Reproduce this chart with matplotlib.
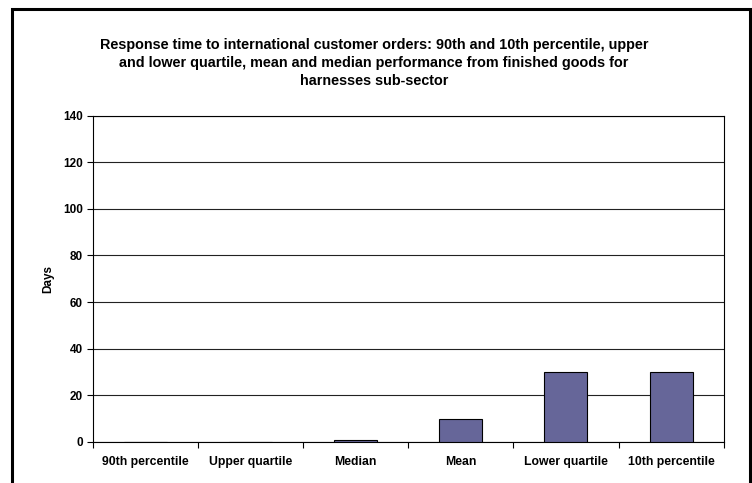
import matplotlib
matplotlib.use("Agg")
import matplotlib.pyplot as plt
from matplotlib.patches import Rectangle

categories = ["90th percentile", "Upper quartile", "Median", "Mean", "Lower quartile", "10th percentile"]
values = [0, 0, 0.8, 10, 30, 30]
yticks = [0, 20, 40, 60, 80, 100, 120, 140]
title = ("Response time to international customer orders: 90th and 10th percentile, upper\n"
         "and lower quartile, mean and median performance from finished goods for\n"
         "harnesses sub-sector")
ylabel = "Days"

plt.rcParams['font.family'] = ['Liberation Sans', 'DejaVu Sans']

W, H = 752, 483
fig = plt.figure(figsize=(W / 100, H / 100), dpi=100)

# outer frame
fig.patches.append(Rectangle((12 / W, -0.05), (750 - 12) / W, (H - 9) / H + 0.05,
                             transform=fig.transFigure, fill=False, edgecolor='black',
                             linewidth=2.2, zorder=0))

ax = fig.add_axes([92.5 / W, 1 - 442 / H, (723.7 - 92.5) / W, (442 - 115.5) / H])
x = list(range(len(categories)))
ax.bar(x, values, width=0.41, color='#666699', edgecolor='black', linewidth=0.8, zorder=3)
ax.set_xlim(-0.5, len(categories) - 0.5)
ax.set_ylim(0, 140)
ax.set_yticks(yticks)
ax.set_yticklabels([str(t) for t in yticks], fontsize=8.5, fontweight='bold')
ax.yaxis.grid(True, color='#222222', linewidth=0.8, zorder=0)
ax.set_xticks([i + 0.5 for i in range(-1, len(categories))], minor=False)
ax.set_xticklabels([])
ax.set_xticks(x, minor=True)
ax.set_xticklabels(categories, minor=True, fontsize=8.8, fontweight='bold')
ax.tick_params(axis='x', which='minor', length=0, pad=10)
ax.tick_params(axis='x', which='major', length=4, direction='out', width=0.8)
ax.tick_params(axis='y', length=4, direction='out', width=0.8, pad=3)
for s in ax.spines.values():
    s.set_linewidth(0.8)
    s.set_color('black')
ax.set_ylabel(ylabel, fontsize=8.5, fontweight='bold', labelpad=6)

fig.text(374 / W, 1 - 38.5 / H, title, ha='center', va='top', fontsize=10.4,
         fontweight='bold', linespacing=1.32)

fig.savefig("out.png", dpi=100)
